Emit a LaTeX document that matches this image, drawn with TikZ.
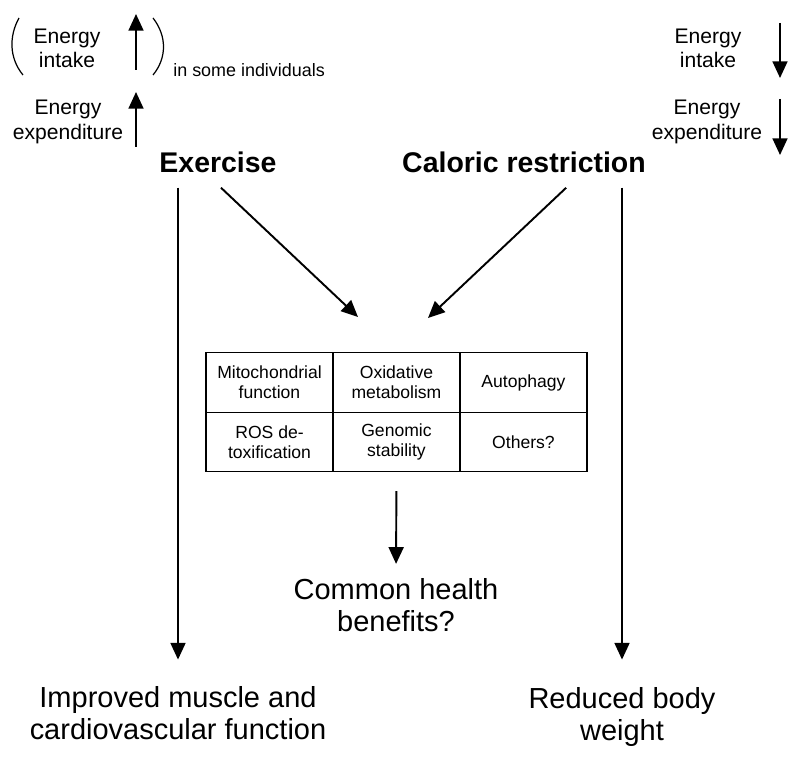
\documentclass[tikz,border=0pt]{standalone}
\usepackage{fontspec}
\setmainfont{Liberation Sans}
\usetikzlibrary{arrows.meta,positioning}

\begin{document}
\begin{tikzpicture}[x=0.02cm,y=-0.02cm,
  lbl/.style={align=center,inner sep=0pt,font=\fontsize{12}{13.8}\selectfont},
  head/.style={inner sep=0pt,font=\fontsize{16.2}{19}\selectfont\bfseries},
  big/.style={align=center,inner sep=0pt,font=\fontsize{16.5}{18.3}\selectfont},
  cell/.style={draw,line width=0.8pt,outer sep=0pt,minimum width=2.54cm,minimum height=1.19cm,
    align=center,inner sep=0pt,font=\fontsize{10}{11.3}\selectfont},
  ar/.style={-{Triangle[length=9.5pt,width=8.5pt]},line width=1.1pt},
  paren/.style={line width=0.7pt}]
\useasboundingbox (0,0) rectangle (800,760);

% energy balance, left and right
\node[lbl] (inL) at (67,48) {Energy\\intake};
\node[lbl] (exL) at (68,122) {Energy\\expenditure};
\node[inner sep=0pt,anchor=west,font=\fontsize{10.2}{12}\selectfont] (some) at (173,70) {in some individuals};
\node[lbl] (inR) at (708,48) {Energy\\intake};
\node[lbl] (exR) at (707,122) {Energy\\expenditure};
\draw[paren] (19,18) .. controls (9,36) and (9,58) .. (23,75);
\draw[paren] (153,18) .. controls (167,36) and (167,58) .. (153,75);

\coordinate (upA) at (136,70);  \coordinate (upAt) at (136,14);
\coordinate (upB) at (136,147); \coordinate (upBt) at (136,92);
\coordinate (dnA) at (780,23);  \coordinate (dnAt) at (780,78);
\coordinate (dnB) at (780,99);  \coordinate (dnBt) at (780,155);
\draw[ar] (upA) -- (upAt);
\draw[ar] (upB) -- (upBt);
\draw[ar] (dnA) -- (dnAt);
\draw[ar] (dnB) -- (dnBt);

% the two interventions
\node[head] (exer) at (218,162) {Exercise};
\node[head] (cr) at (524,162) {Caloric restriction};

% shared mechanisms
\node[cell] (mito) at (269.5,382.5) {Mitochondrial\\function};
\node[cell,right=0pt of mito] (oxid) {Oxidative\\metabolism};
\node[cell,right=0pt of oxid] (auto) {Autophagy};
\node[cell,below=0pt of mito] (ros) {ROS de-\\toxification};
\node[cell,below=0pt of oxid] (geno) {Genomic\\stability};
\node[cell,below=0pt of auto] (other) {Others?};

\node[big] (common) at (396,605) {Common health\\benefits?};
\node[big] (muscle) at (178,713) {Improved muscle and\\cardiovascular function};
\node[big] (weight) at (622,717) {Reduced body\\weight};

\coordinate (exIn) at (358,317);
\coordinate (crIn) at (428,318);
\draw[ar] ([xshift=1.7pt,yshift=-8.5pt]exer.south) -- (exIn);
\draw[ar] ([xshift=24pt,yshift=-8.5pt]cr.south) -- (crIn);
\draw[ar,shorten <=8.5pt,shorten >=15pt] (muscle.north |- exer.south) -- (muscle.north);
\draw[ar,shorten <=8.5pt,shorten >=15pt] (weight.north |- cr.south) -- (weight.north |- muscle.north);
\draw[ar,shorten <=11pt,shorten >=8pt] (geno.south) -- (common.north);
\end{tikzpicture}
\end{document}
